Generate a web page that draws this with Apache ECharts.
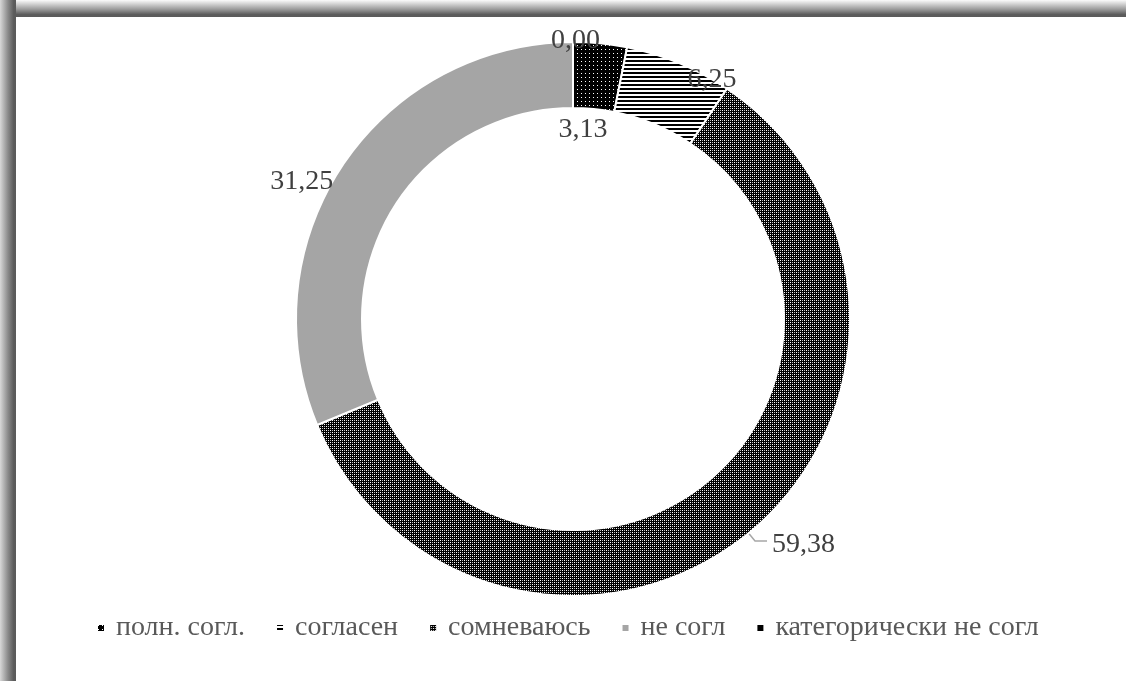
<!DOCTYPE html>
<html><head><meta charset="utf-8">
<script src="https://cdn.jsdelivr.net/npm/echarts@6/dist/echarts.min.js"></script>
<style>html,body{margin:0;padding:0;background:#fff}#c{width:1126px;height:681px}</style>
</head><body><div id="c"></div>
<script>
const categories = ['полн. согл.', 'согласен', 'сомневаюсь', 'не согл', 'категорически не согл'];
const values = [3.13, 6.25, 59.38, 31.25, 0.00];

function tile(w, h, draw) {
  const c = document.createElement('canvas'); c.width = w; c.height = h;
  const g = c.getContext('2d'); draw(g); return c;
}
const patDots = tile(4, 4, g => { g.fillStyle = '#000'; g.fillRect(0,0,4,4); g.fillStyle = '#fff'; g.fillRect(1,1,1,1); });
const patStripes = tile(4, 4, g => { g.fillStyle = '#fff'; g.fillRect(0,0,4,4); g.fillStyle = '#000'; g.fillRect(0,0,4,2); });
const patCheck = tile(4, 4, g => {
  g.fillStyle = '#000'; g.fillRect(0,0,4,4);
  g.fillStyle = '#fff';
  g.fillRect(0,0,1,1); g.fillRect(2,2,1,1);
  g.fillStyle = '#bbb';
  g.fillRect(0,2,1,1); g.fillRect(2,0,1,1);
});
const fills = [
  {image: patDots, repeat: 'repeat'},
  {image: patStripes, repeat: 'repeat'},
  {image: patCheck, repeat: 'repeat'},
  '#a5a5a5',
  '#000000'
];
const labelShift = [[-51, 90], [-2, 20], [0, 4], [3, 19], [36, 3]];

const chart = echarts.init(document.getElementById('c'));
chart.setOption({
  animation: false,
  backgroundColor: '#fff',
  textStyle: {fontFamily: 'Liberation Serif'},
  graphic: [
    {type: 'rect', shape: {x: 0, y: 0, width: 1126, height: 17}, style: {fill: new echarts.graphic.LinearGradient(0,0,0,1,[{offset:0,color:'#fbfbfb'},{offset:0.55,color:'#9a9a9a'},{offset:0.85,color:'#5c5c5c'},{offset:1,color:'#5a5a5a'}])}, z: 10},
    {type: 'rect', shape: {x: 0, y: 0, width: 16, height: 681}, style: {fill: new echarts.graphic.LinearGradient(0,0,1,0,[{offset:0,color:'#d8d8d8'},{offset:0.5,color:'#8a8a8a'},{offset:0.85,color:'#5c5c5c'},{offset:1,color:'#5a5a5a'}])}, z: 10}
  ],
  legend: {
    bottom: 34, left: 91,
    itemWidth: 14, itemHeight: 8, itemGap: 30,
    icon: 'path://M0,0h8v8h-8zM13.99,0h0.01v8h-0.01z',
    textStyle: {fontFamily: 'Liberation Serif', fontSize: 28, color: '#595959'},
    data: categories
  },
  series: [{
    type: 'pie',
    center: [573, 319],
    radius: [211, 277],
    startAngle: 90,
    clockwise: true,
    avoidLabelOverlap: false,
    stillShowZeroSum: true,
    itemStyle: {borderColor: '#fff', borderWidth: 2},
    label: {
      show: true, position: 'outside',
      fontFamily: 'Liberation Serif', fontSize: 28, color: '#404040',
      formatter: p => p.value.toFixed(2).replace('.', ',')
    },
    labelLine: {show: false, length: 4, length2: 4},
    data: categories.map((n, i) => ({
      name: n, value: values[i],
      itemStyle: {color: fills[i]},
      labelLine: i === 2 ? {show: true, length: 10, length2: 12, lineStyle: {color: '#a6a6a6', width: 1.5}} : {show: false}
    })),
    labelLayout: p => ({dx: labelShift[p.dataIndex][0], dy: labelShift[p.dataIndex][1]})
  }]
});
</script></body></html>
